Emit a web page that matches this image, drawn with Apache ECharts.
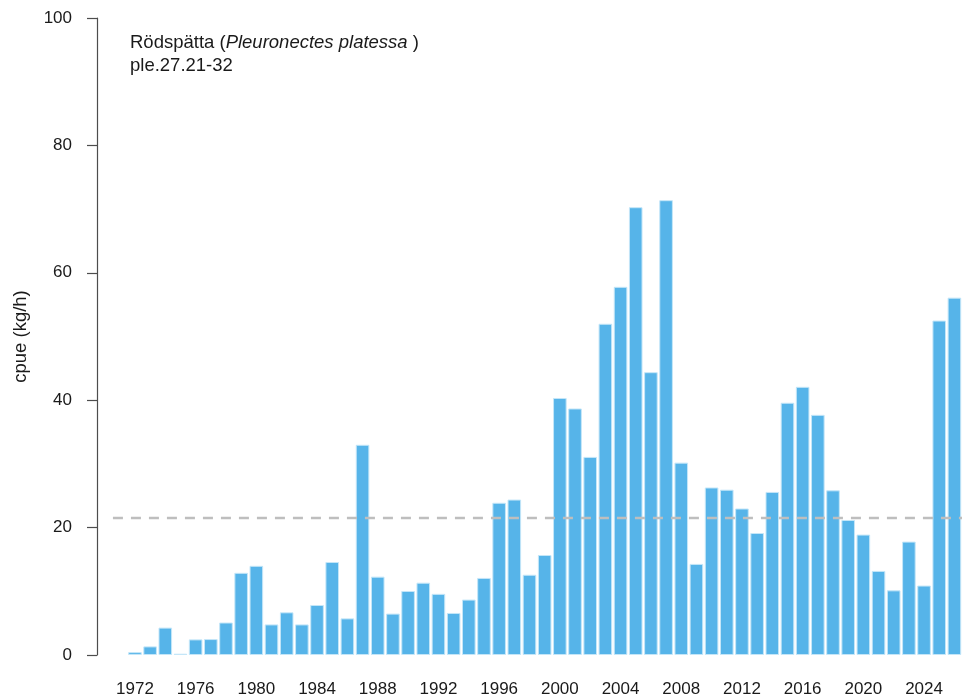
<!DOCTYPE html>
<html>
<head>
<meta charset="utf-8">
<script src="https://cdn.jsdelivr.net/npm/echarts@6/dist/echarts.min.js"></script>
<style>
  html, body { margin: 0; padding: 0; background: #fff; }
  #chart { width: 962px; height: 700px; }
</style>
</head>
<body>
<div id="chart"></div>
<script>
// Annual catch per unit effort (kg/h) for plaice, ple.27.21-32
const years = [
  1972, 1973, 1974, 1975, 1976, 1977, 1978, 1979, 1980, 1981,
  1982, 1983, 1984, 1985, 1986, 1987, 1988, 1989, 1990, 1991,
  1992, 1993, 1994, 1995, 1996, 1997, 1998, 1999, 2000, 2001,
  2002, 2003, 2004, 2005, 2006, 2007, 2008, 2009, 2010, 2011,
  2012, 2013, 2014, 2015, 2016, 2017, 2018, 2019, 2020, 2021,
  2022, 2023, 2024, 2025, 2026
];
const cpue = [
  0.45, 1.35, 4.3, 0.2, 2.45, 2.5, 5.1, 12.9, 14.0, 4.8,
  6.7, 4.8, 7.85, 14.6, 5.75, 33.0, 12.3, 6.5, 10.05, 11.35,
  9.6, 6.6, 8.7, 12.1, 23.9, 24.4, 12.6, 15.7, 40.35, 38.7,
  31.1, 52.0, 57.8, 70.3, 44.4, 71.4, 30.2, 14.3, 26.3, 25.95,
  23.0, 19.15, 25.6, 39.6, 42.1, 37.7, 25.85, 21.2, 18.9, 13.2,
  10.15, 17.8, 10.9, 52.5, 56.1
];
// Long-term mean reference level
const meanLevel = 21.6;
// Year labels along the x axis
const xTickLabels = [1972, 1976, 1980, 1984, 1988, 1992, 1996, 2000, 2004, 2008, 2012, 2016, 2020, 2024];
const yTicks = { min: 0, max: 100, interval: 20 };
const titleMain = 'Rödspätta (';
const titleItalic = 'Pleuronectes platessa';
const titleEnd = ')';
const stockCode = 'ple.27.21-32';
const yAxisTitle = 'cpue (kg/h)';

const FONT = '"Liberation Sans", Arial, Helvetica, sans-serif';
const FS = 17;        // tick labels
const FS_TEXT = 18.5; // title and axis name
const INK = '#1a1a1a';

const chart = echarts.init(document.getElementById('chart'), null, { renderer: 'canvas' });

chart.setOption({
  animation: false,
  backgroundColor: '#ffffff',
  textStyle: { fontFamily: FONT },
  title: {
    left: 130,
    top: 31,
    padding: 0,
    text: '{n|' + titleMain + '}{i|' + titleItalic + '}{n| ' + titleEnd + '}\n{n|' + stockCode + '}',
    textStyle: {
      fontWeight: 'normal',
      rich: {
        n: { fontFamily: FONT, fontSize: FS_TEXT, fontWeight: 'normal', color: INK, lineHeight: 23 },
        i: { fontFamily: FONT, fontSize: FS_TEXT, fontWeight: 'normal', fontStyle: 'italic', color: INK, lineHeight: 23 }
      }
    }
  },
  grid: { left: 97, top: 18, bottom: 45, width: 867, containLabel: false },
  xAxis: {
    type: 'value',
    min: 1969.5,
    max: 2026.5,
    axisLine: { show: false },
    axisTick: { show: false },
    splitLine: { show: false },
    axisLabel: {
      customValues: xTickLabels,
      formatter: v => String(v),
      color: INK,
      fontFamily: FONT,
      fontSize: FS,
      margin: 26
    }
  },
  yAxis: {
    type: 'value',
    min: yTicks.min,
    max: yTicks.max,
    interval: yTicks.interval,
    name: yAxisTitle,
    nameLocation: 'middle',
    nameGap: 67,
    nameRotate: 90,
    nameTextStyle: { fontFamily: FONT, fontSize: FS_TEXT, color: INK },
    axisLine: { show: true, lineStyle: { color: '#4d4d4d', width: 1.2 } },
    axisTick: { show: true, inside: false, length: 10, lineStyle: { color: '#4d4d4d', width: 1.2 } },
    splitLine: { show: false },
    axisLabel: { color: INK, fontFamily: FONT, fontSize: FS, margin: 25 }
  },
  series: [{
    type: 'bar',
    data: years.map((y, i) => [y, cpue[i]]),
    barWidth: 13.6,
    itemStyle: { color: '#56B4E9', borderColor: '#c4e6f8', borderWidth: 1 },
    markLine: {
      silent: true,
      symbol: 'none',
      label: { show: false },
      lineStyle: { color: '#bebebe', type: [10, 8], width: 2.4 },
      data: [[{ coord: [1970.55, meanLevel] }, { coord: [2026.5, meanLevel] }]]
    }
  }]
});
</script>
</body>
</html>
